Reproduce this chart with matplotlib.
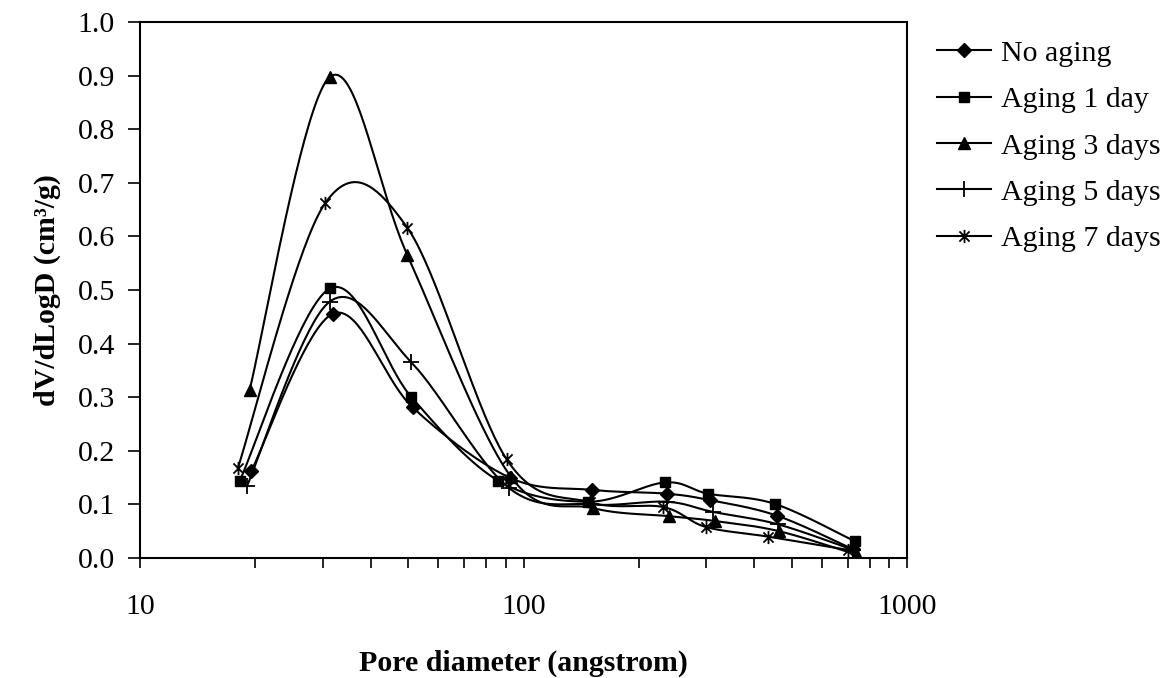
import numpy as np
import matplotlib
matplotlib.use("Agg")
import matplotlib.pyplot as plt
from matplotlib.path import Path
from matplotlib.ticker import FixedLocator, LogLocator, NullFormatter, FormatStrFormatter

# --- Dane (średnica porów [A], dV/dLogD [cm3/g]) ---
x_no_aging = [19.5, 31.9, 51.4, 92.0, 151.0, 236.0, 306.0, 458.0, 725.0]
y_no_aging = [0.162, 0.456, 0.281, 0.150, 0.127, 0.120, 0.108, 0.079, 0.016]

x_aging_1 = [18.2, 31.3, 50.9, 86.0, 147.5, 234.0, 303.0, 452.0, 732.0]
y_aging_1 = [0.144, 0.503, 0.301, 0.144, 0.105, 0.141, 0.120, 0.101, 0.031]

x_aging_3 = [19.3, 31.2, 49.8, 92.6, 152.0, 240.0, 316.0, 464.0, 740.0]
y_aging_3 = [0.313, 0.897, 0.565, 0.152, 0.093, 0.078, 0.069, 0.050, 0.006]

x_aging_5 = [19.0, 31.2, 51.0, 91.5, 150.0, 236.0, 312.0, 460.0, 725.0]
y_aging_5 = [0.134, 0.478, 0.365, 0.131, 0.100, 0.105, 0.086, 0.063, 0.015]

x_aging_7 = [18.0, 30.4, 49.8, 90.4, 149.0, 231.6, 298.5, 433.0, 703.0]
y_aging_7 = [0.168, 0.662, 0.616, 0.184, 0.104, 0.095, 0.058, 0.040, 0.015]

labels = ["No aging", "Aging 1 day", "Aging 3 days", "Aging 5 days", "Aging 7 days"]

# gwiazdka w stylu Excela: X + pionowa kreska
star_path = Path(
    [(-1, -1), (1, 1), (-1, 1), (1, -1), (0, -1.3), (0, 1.3)],
    [Path.MOVETO, Path.LINETO, Path.MOVETO, Path.LINETO, Path.MOVETO, Path.LINETO],
)

XMIN, XMAX, YMIN, YMAX = 10, 1000, 0.0, 1.0
ASPECT = 536 / 767  # wysokość / szerokość pola wykresu w pikselach


def smooth(xs, ys, n=40):
    # wygładzanie jak w Excelu (Bezier / Catmull-Rom) w układzie osi
    u = (np.log10(xs) - np.log10(XMIN)) / (np.log10(XMAX) - np.log10(XMIN))
    v = (np.asarray(ys) - YMIN) / (YMAX - YMIN) * ASPECT
    P = np.column_stack([u, v])
    P_ext = np.vstack([P[0], P, P[-1]])
    out = []
    t = np.linspace(0, 1, n)[:, None]
    for i in range(len(P) - 1):
        p0, p1, p2, p3 = P_ext[i], P_ext[i + 1], P_ext[i + 2], P_ext[i + 3]
        c1 = p1 + (p2 - p0) / 6
        c2 = p2 - (p3 - p1) / 6
        seg = ((1 - t) ** 3) * p1 + 3 * ((1 - t) ** 2) * t * c1 + 3 * (1 - t) * t ** 2 * c2 + t ** 3 * p2
        out.append(seg if i == 0 else seg[1:])
    S = np.vstack(out)
    sx = 10 ** (S[:, 0] * (np.log10(XMAX) - np.log10(XMIN)) + np.log10(XMIN))
    sy = S[:, 1] / ASPECT * (YMAX - YMIN) + YMIN
    return sx, sy


plt.rcParams["font.family"] = ["Liberation Serif", "DejaVu Serif"]
FS = 21.5

fig = plt.figure(figsize=(11.66, 6.78), dpi=100)
ax = fig.add_axes([140 / 1166, 1 - 558 / 678, 767 / 1166, 536 / 678])

series = [
    (x_no_aging, y_no_aging, dict(marker="D", markersize=7.5)),
    (x_aging_1, y_aging_1, dict(marker="s", markersize=7.5)),
    (x_aging_3, y_aging_3, dict(marker="^", markersize=9)),
    (x_aging_5, y_aging_5, dict(marker="+", markersize=11, markeredgewidth=1.3)),
    (x_aging_7, y_aging_7, dict(marker=star_path, markersize=9.5, markeredgewidth=1.3, markerfacecolor="none")),
]

for (xs, ys, mk), lab in zip(series, labels):
    sx, sy = smooth(xs, ys)
    ax.plot(sx, sy, color="black", lw=1.5)
    ax.plot(xs, ys, linestyle="none", color="black", **mk)
    # wpis do legendy
    ax.plot([], [], color="black", lw=1.5, label=lab, **mk)

ax.set_xscale("log")
ax.set_xlim(XMIN, XMAX)
ax.set_ylim(YMIN, YMAX)
ax.yaxis.set_major_locator(FixedLocator(np.arange(0, 1.01, 0.1)))
ax.yaxis.set_major_formatter(FormatStrFormatter("%.1f"))
ax.xaxis.set_minor_locator(LogLocator(base=10, subs=np.arange(2, 10)))
ax.xaxis.set_minor_formatter(NullFormatter())
ax.xaxis.set_major_formatter(FormatStrFormatter("%d"))

ax.tick_params(axis="both", which="both", direction="out", width=1.2, labelsize=FS)
ax.tick_params(axis="x", which="both", length=7)
ax.tick_params(axis="x", which="major", pad=19)
ax.tick_params(axis="y", length=9, pad=9)
for sp in ax.spines.values():
    sp.set_linewidth(1.5)

ax.set_xlabel("Pore diameter (angstrom)", fontsize=FS, fontweight="bold", labelpad=21)
ax.set_ylabel("dV/dLogD (cm³/g)", fontsize=FS, fontweight="bold", labelpad=12)

fig.legend(loc="upper left", bbox_to_anchor=(937 / 1166, 1 - 40 / 678), frameon=False, fontsize=FS,
           handlelength=1.8, handletextpad=0.35, labelspacing=0.65, borderpad=0, borderaxespad=0)

fig.savefig("out.png", dpi=100)
